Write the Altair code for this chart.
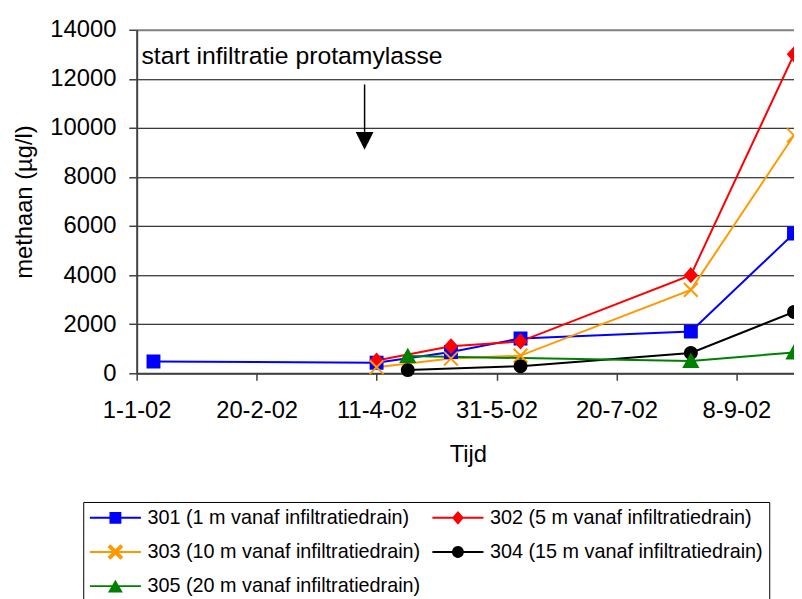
import math
import altair as alt
import pandas as pd

# ---------------- data ----------------
series_names = [
    "301 (1 m vanaf infiltratiedrain)",
    "302 (5 m vanaf infiltratiedrain)",
    "303 (10 m vanaf infiltratiedrain)",
    "304 (15 m vanaf infiltratiedrain)",
    "305 (20 m vanaf infiltratiedrain)",
]
dates_301 = ["2002-01-08", "2002-04-11", "2002-05-12", "2002-06-10", "2002-08-20", "2002-10-02"]
values_301 = [480, 430, 870, 1420, 1700, 5700]
dates_302 = ["2002-04-11", "2002-05-12", "2002-06-10", "2002-08-20", "2002-10-02"]
values_302 = [520, 1100, 1300, 4000, 13000]
dates_303 = ["2002-04-11", "2002-05-12", "2002-06-10", "2002-08-20", "2002-10-02"]
values_303 = [250, 600, 720, 3400, 9700]
dates_304 = ["2002-04-24", "2002-06-10", "2002-08-20", "2002-10-02"]
values_304 = [130, 290, 830, 2500]
dates_305 = ["2002-04-24", "2002-08-20", "2002-10-02"]
values_305 = [700, 500, 850]

x_tick_dates = ["2002-01-01", "2002-02-20", "2002-04-11", "2002-05-31", "2002-07-20", "2002-09-08"]
x_domain_dates = ["2002-01-01", "2002-10-02"]
y_ticks = [0, 2000, 4000, 6000, 8000, 10000, 12000, 14000]

annotation_text = "start infiltratie protamylasse"
annotation_date = "2002-01-03"
annotation_value = 12600
arrow_date = "2002-04-06"
arrow_top = 11770
arrow_bottom = 9840
arrow_head_value = 9470

# ---------------- styles ----------------
colors = ["#0000FF", "#FF0000", "#FF9900", "#000000", "#008000"]
FONT = "Liberation Sans"


def ms(d):
    return int(pd.Timestamp(d, tz="UTC").value // 10**6)


def circle_path(r, n=24):
    pts = []
    for i in range(n):
        a = 2 * math.pi * i / n
        pts.append(f"{r * math.cos(a):.3f},{r * math.sin(a):.3f}")
    return "M" + "L".join(pts) + "Z"


def x_path(a, t):
    d = t / math.sqrt(2)
    r1 = [(-a + d, -a - d), (a + d, a - d), (a - d, a + d), (-a - d, -a + d)]
    r2 = [(-a - d, a - d), (a - d, -a - d), (a + d, -a + d), (-a + d, a + d)]
    out = ""
    for r in (r1, r2):
        out += "M" + "L".join(f"{x:.3f},{y:.3f}" for x, y in r) + "Z"
    return out


# plot markers (size 196 -> 1 unit = 7 px), drawn with fill + stroke
plot_paths = [
    "M-0.86,-0.86H0.86V0.86H-0.86Z",
    "M0,-0.95L0.86,0L0,0.95L-0.86,0Z",
    "M-1,-1L1,1M-1,1L1,-1",
    circle_path(0.86),
    "M0,-0.93L1,0.86L-1,0.86Z",
]
# legend symbols (size 100 -> 1 unit = 5 px), fully filled shapes
bar = "M-5.16,-0.2H5.16V0.2H-5.16Z"
legend_paths_by_series = [
    bar + "M-1.2,-1.2H1.2V1.2H-1.2Z",
    bar + "M0,-1.4L1.2,0L0,1.4L-1.2,0Z",
    bar + x_path(1.3, 0.4),
    bar + circle_path(1.2),
    bar + "M0,-1.3L1.5,1.3L-1.5,1.3Z",
]
# legend grid fills column by column
legend_order = [0, 2, 4, 1, 3]

rows = []
for name, ds, vs in zip(
    series_names,
    [dates_301, dates_302, dates_303, dates_304, dates_305],
    [values_301, values_302, values_303, values_304, values_305],
):
    for d, v in zip(ds, vs):
        rows.append({"series": name, "date": d, "value": v})
df = pd.DataFrame(rows)

ann_df = pd.DataFrame([{"date": annotation_date, "value": annotation_value, "label": annotation_text}])
arrow_df = pd.DataFrame([{"date": arrow_date, "value": arrow_top, "value2": arrow_bottom}])
head_df = pd.DataFrame([{"date": arrow_date, "value": arrow_head_value}])

x_scale = alt.Scale(type="utc", domain=[ms(d) for d in x_domain_dates])
y_scale = alt.Scale(domain=[0, 14000], nice=False, zero=True)

x_axis = alt.Axis(
    values=[ms(d) for d in x_tick_dates],
    labelExpr="utcFormat(datum.value, '%-d-%-m-%y')",
    title="Tijd",
    grid=False,
    tickSize=7,
    tickColor="#404040",
    tickWidth=1.5,
    domainColor="#404040",
    domainWidth=2,
    labelFont=FONT,
    labelFontSize=24,
    labelColor="black",
    labelPadding=19,
    labelFlush=False,
    labelOverlap=False,
    titleFont=FONT,
    titleFontSize=24,
    titleFontWeight="normal",
    titleColor="black",
    titleBaseline="alphabetic",
    titleAlign="center",
    titleX=334.5,
    titleY=89,
)
y_axis = alt.Axis(
    values=y_ticks,
    format="d",
    title="methaan (µg/l)",
    grid=True,
    gridColor={"condition": {"test": "datum.value === 14000", "value": "#808080"}, "value": "black"},
    gridWidth={"condition": {"test": "datum.value === 14000", "value": 2}, "value": 1},
    tickSize=8,
    tickColor="#404040",
    tickWidth=1.5,
    domainColor="#404040",
    domainWidth=2,
    labelFont=FONT,
    labelFontSize=24,
    labelColor="black",
    labelPadding=13,
    titleFont=FONT,
    titleFontSize=24,
    titleFontWeight="normal",
    titleColor="black",
    titleAngle=270,
    titleAlign="center",
    titleBaseline="alphabetic",
    titleX=-106,
    titleY=173.5,
)

X = alt.X("date:T", scale=x_scale, axis=x_axis)
Y = alt.Y("value:Q", scale=y_scale, axis=y_axis)

color_scale = alt.Scale(domain=series_names, range=colors)

lines = alt.Chart(df).mark_line(strokeWidth=2).encode(
    x=X, y=Y, stroke=alt.Stroke("series:N", scale=color_scale, legend=None)
)

points = alt.Chart(df).mark_point(filled=True, opacity=1, strokeWidth=2, size=196).encode(
    x=X,
    y=Y,
    fill=alt.Fill("series:N", scale=color_scale, legend=None),
    stroke=alt.Stroke("series:N", scale=color_scale, legend=None),
    shape=alt.Shape("series:N", scale=alt.Scale(domain=series_names, range=plot_paths), legend=None),
)

leg_domain = [series_names[i] for i in legend_order]
leg_colors = [colors[i] for i in legend_order]
leg_shapes = [legend_paths_by_series[i] for i in legend_order]

leg = alt.Legend(
    orient="none",
    legendX=-54,
    legendY=477,
    columns=2,
    columnPadding=11,
    rowPadding=14.5,
    padding=6,
    strokeColor="black",
    fillColor="white",
    cornerRadius=0,
    symbolSize=100,
    symbolStrokeWidth=0,
    symbolFillColor="black",
    symbolOpacity=1,
    symbolOffset=16.5,
    labelOffset=22.4,
    labelFont=FONT,
    labelFontSize=20,
    labelColor="black",
    labelLimit=500,
    title=" ",
    titleOrient="bottom",
    titleFontSize=20,
    titlePadding=6,
)

legend_layer = alt.Chart(df).mark_point(filled=True, opacity=0, size=100).encode(
    x=X,
    y=Y,
    color=alt.Color("series:N", scale=alt.Scale(domain=leg_domain, range=leg_colors), legend=leg),
    shape=alt.Shape("series:N", scale=alt.Scale(domain=leg_domain, range=leg_shapes), legend=leg),
)

ann = alt.Chart(ann_df).mark_text(
    align="left", baseline="alphabetic", font=FONT, fontSize=25, color="black"
).encode(x=X, y=Y, text="label:N")

arrow = alt.Chart(arrow_df).mark_rule(color="black", strokeWidth=1.5).encode(
    x=X, y=Y, y2="value2:Q"
)

head = alt.Chart(head_df).mark_point(
    shape="M-1,-1L1,-1L0,1Z", filled=True, color="black", size=324, opacity=1
).encode(x=X, y=Y)

chart = (
    alt.layer(lines, points, legend_layer, ann, arrow, head)
    .resolve_scale(shape="independent", color="independent")
    .properties(
        width=664,
        height=347,
        autosize=alt.AutoSizeParams(type="none"),
        padding={"left": 130, "top": 19, "right": 0, "bottom": 225},
        background="white",
    )
    .configure_view(stroke=None)
)

chart.save("out.html", embed_options={"renderer": "svg", "actions": False})
